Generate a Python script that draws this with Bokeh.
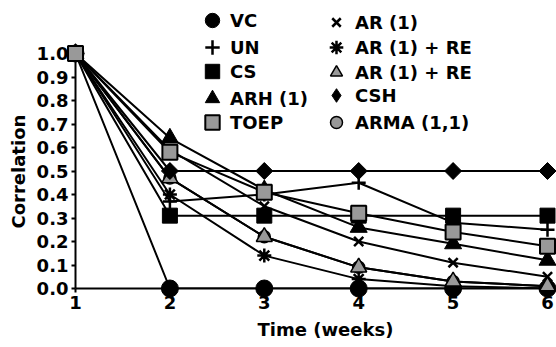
import math
from bokeh.plotting import figure
from bokeh.models import Range1d, FixedTicker, PrintfTickFormatter, Legend, LegendItem, Title
from bokeh.embed import file_html
from bokeh.resources import INLINE

# ---------------- data ----------------
weeks = [1, 2, 3, 4, 5, 6]
vc = [1.00, 0.00, 0.00, 0.00, 0.00, 0.00]
un = [1.00, 0.37, 0.40, 0.45, 0.28, 0.25]
cs = [1.00, 0.31, 0.31, 0.31, 0.31, 0.31]
arh = [1.00, 0.64, 0.42, 0.26, 0.19, 0.12]
toep = [1.00, 0.58, 0.41, 0.32, 0.24, 0.18]
ar1 = [1.00, 0.59, 0.35, 0.20, 0.11, 0.05]
ar1_re_star = [1.00, 0.40, 0.14, 0.04, 0.01, 0.00]
ar1_re_tri = [1.00, 0.47, 0.22, 0.09, 0.03, 0.01]
csh = [1.00, 0.50, 0.50, 0.50, 0.50, 0.50]
arma = [1.00, 0.47, 0.22, 0.09, 0.03, 0.01]

x_ticks = [1, 2, 3, 4, 5, 6]
y_ticks = [0.0, 0.1, 0.2, 0.3, 0.4, 0.5, 0.6, 0.7, 0.8, 0.9, 1.0]

legend1_labels = ["VC", "UN", "CS", "ARH (1)", "TOEP"]
legend2_labels = ["AR (1)", "AR (1) + RE", "AR (1) + RE", "CSH", "ARMA (1,1)"]
x_title = "Time (weeks)"
y_title = "Correlation"

GRAY = "#999999"
FONT = "DejaVu Sans"

# ---------------- layout (pixels) ----------------
W, H = 556, 347
FL, FB = 75, 288                  # frame left (week 1) / frame bottom (0.0)
X6_PX = 547.0                     # pixel of week 6
Y1_PX = 53.0                      # pixel of 1.0
sx = (X6_PX - FL) / 5.0
sy = (FB - Y1_PX) / 1.0
x_end = 1 + (W - FL) / sx
y_end = FB / sy

p = figure(width=W, height=H, output_backend="svg", toolbar_location=None,
           x_range=Range1d(1, x_end), y_range=Range1d(0, y_end),
           min_border_left=FL, min_border_right=0, min_border_top=0,
           min_border_bottom=H - FB)
p.outline_line_color = None
p.grid.visible = False
p.background_fill_color = "white"
p.border_fill_color = "white"

for ax in (p.xaxis[0], p.yaxis[0]):
    ax.axis_line_width = 2
    ax.axis_line_color = "black"
    ax.major_tick_line_width = 2
    ax.major_tick_line_color = "black"
    ax.major_tick_out = 4
    ax.major_tick_in = 0
    ax.minor_tick_line_color = None
    ax.major_label_standoff = 3
    ax.major_label_text_font = FONT
    ax.major_label_text_font_style = "bold"
    ax.major_label_text_font_size = "18px"
    ax.major_label_text_color = "black"

p.xaxis[0].bounds = (1, x_end)
p.xaxis[0].ticker = FixedTicker(ticks=x_ticks)
p.yaxis[0].bounds = (0, 1.0)
p.yaxis[0].ticker = FixedTicker(ticks=y_ticks)
p.yaxis[0].formatter = PrintfTickFormatter(format="%.1f")

# ---------------- series ----------------
series = [
    # key, values, marker, size, fill, line width, angle
    ("arma", arma, "circle", 12, GRAY, 1.5, 0.0),
    ("vc", vc, "circle", 17, "black", 1, 0.0),
    ("un", un, "cross", 14, "black", 2.5, 0.0),
    ("cs", cs, "square", 15, "black", 1, 0.0),
    ("arh", arh, "triangle", 17, "black", 1, 0.0),
    ("ar1", ar1, "x", 13, "black", 2.5, 0.0),
    ("star", ar1_re_star, "asterisk", 14, "black", 2.5, 0.0),
    ("tri", ar1_re_tri, "triangle", 16, GRAY, 1.5, 0.0),
    ("csh_key", csh, "diamond", 16, "black", 1, 0.0),   # legend symbol (hidden under the marks below)
    ("csh", csh, "square", 12, "black", 1, math.pi / 4),
    ("toep", toep, "square", 15, GRAY, 2, 0.0),
]

for key, vals, *_rest in series:
    if key != "csh_key":
        p.line(weeks, vals, line_color="black", line_width=2)

rend = {}
for key, vals, marker, size, fill, lw, ang in series:
    rend[key] = p.scatter(weeks, vals, marker=marker, size=size, fill_color=fill,
                          line_color="black", line_width=lw, angle=ang, level="overlay")

# ---------------- legends ----------------
# Each legend column is split into two interleaved legends (odd / even rows)
def make_legend(labels, keys, box, step, standoff, center_x, first_center_y):
    items = [LegendItem(label=l, renderers=[rend[k]]) for l, k in zip(labels, keys)]
    n = len(items)
    spacing = step - box
    height = n * box + (n - 1) * spacing
    top = first_center_y - box / 2
    left = center_x - box / 2
    lg = Legend(items=items, location=(int(round(left - FL)), int(round(FB - (top + height)))),
                orientation="vertical",
                glyph_width=box, glyph_height=box, label_height=box,
                spacing=spacing, label_standoff=standoff, padding=0, margin=0,
                background_fill_alpha=0, border_line_alpha=0,
                label_text_font=FONT, label_text_font_style="bold",
                label_text_font_size="18px", label_text_color="black")
    p.add_layout(lg, "center")
    return lg

keys1 = ["vc", "un", "cs", "arh", "toep"]
keys2 = ["ar1", "star", "tri", "csh_key", "arma"]
make_legend(legend1_labels[0::2], keys1[0::2], 36, 51, 0, 212, 20)
make_legend(legend1_labels[1::2], keys1[1::2], 36, 51, 0, 212, 47)
make_legend(legend2_labels[0::2], keys2[0::2], 30, 50, 4, 336, 22)
make_legend(legend2_labels[1::2], keys2[1::2], 34, 48, 2, 336, 47)

# ---------------- axis titles ----------------
p.add_layout(Title(text=y_title, align="left", offset=60, standoff=10,
                   text_font=FONT, text_font_style="bold", text_font_size="18px",
                   text_color="black"), "left")
p.add_layout(Title(text=x_title, align="left", offset=182, standoff=10,
                   text_font=FONT, text_font_style="bold", text_font_size="18px",
                   text_color="black"), "below")

open("out.html", "w").write(file_html(p, INLINE))
